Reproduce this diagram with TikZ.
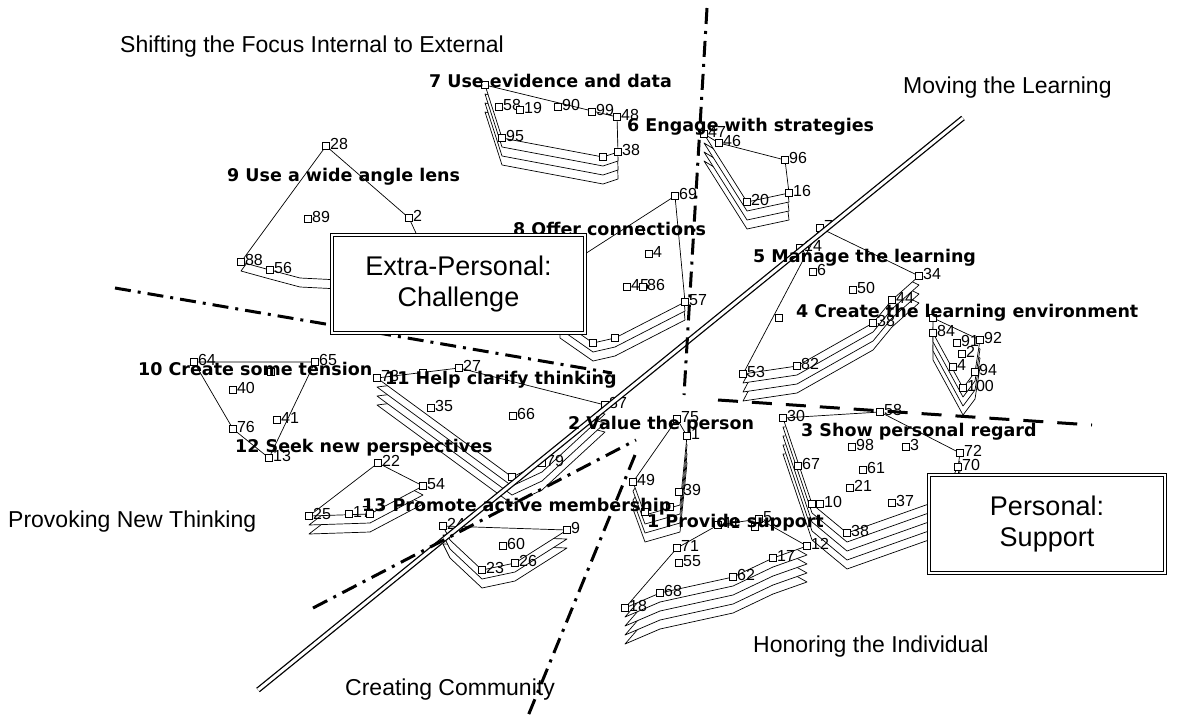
\documentclass[tikz,border=0pt]{standalone}
\usepackage{fontspec}
\setmainfont{Liberation Sans}
\newfontfamily\clfont{DejaVu Sans}
\tikzset{
 clus/.style={draw=black, fill=white, line width=0.7pt, line join=round},
 sq/.style={draw=black, fill=white, line width=0.8pt, minimum size=7pt, inner sep=0pt, rectangle},
 num/.style={font=\fontsize{16}{16}\selectfont, inner sep=1pt, yshift=2pt, xshift=-1pt},
 clab/.style={font=\clfont\bfseries\fontsize{17.5}{17.5}\selectfont, inner sep=0pt},
 corner/.style={font=\fontsize{23}{23}\selectfont, inner sep=0pt, anchor=west},
 boxlab/.style={draw=black, double, double distance=2.5pt, line width=1.2pt, fill=white, align=center, font=\fontsize{27}{31}\selectfont},
 dashdot/.style={line width=3pt, dash pattern=on 16pt off 7pt on 3pt off 7pt},
 longdash/.style={line width=3pt, dash pattern=on 20pt off 14pt},
 axis/.style={double, double distance=3pt, line width=1.3pt}
}
\newcommand\clusterpoly[2]{%
  \ifnum#1>0
   \foreach \k in {#1,...,1}{\filldraw[clus,yshift={-9*\k}] #2 -- cycle;}%
  \fi
  \filldraw[clus] #2 -- cycle;}
\begin{document}
\begin{tikzpicture}[x=1pt,y=-1pt]
\useasboundingbox (0,0) rectangle (1182,717);
\fill[white] (0,0) rectangle (1182,717);

% ---- cluster polygons ----
\clusterpoly{3}{(485,85) -- (617,117) -- (618,152) -- (603,157) -- (502,138)}
\clusterpoly{3}{(704,134) -- (719,143) -- (785,160) -- (789,193) -- (747,202)}
\clusterpoly{1}{(326,146) -- (409,218) -- (440,285) -- (300,278) -- (270,270) -- (241,262)}
\clusterpoly{2}{(675,196) -- (685,302) -- (615,338) -- (593,343) -- (560,320) -- (560,270)}
\clusterpoly{3}{(820,228) -- (919,276) -- (892,300) -- (873,323) -- (797,366) -- (743,374)}
\clusterpoly{3}{(933,318) -- (980,340) -- (975,372) -- (963,388) -- (933,333)}
\clusterpoly{4}{(783,418) -- (880,412) -- (960,453) -- (958,467) -- (940,500) -- (847,533) -- (812,504)}
\clusterpoly{3}{(377,378) -- (459,368) -- (605,405) -- (542,463) -- (512,477)}
\clusterpoly{3}{(677,419) -- (687,436) -- (680,505) -- (645,515) -- (633,482)}
\clusterpoly{4}{(625,608) -- (677,548) -- (718,525) -- (759,519) -- (807,546) -- (773,558) -- (733,577) -- (660,593)}
\clusterpoly{0}{(194,362) -- (315,362) -- (269,458) -- (233,429)}
\clusterpoly{2}{(378,463) -- (423,486) -- (370,514) -- (309,516)}
\clusterpoly{2}{(443,526) -- (567,530) -- (515,563) -- (482,570) -- (450,540)}

% ---- points ----
\foreach \nm/\x/\y/\lab in {
 a1/485/85/{}, a2/499/107/58, a3/520/110/19, a4/558/107/90, a5/592/112/99, a6/617/117/48, a7/502/138/95, a8/603/157/{}, a9/618/152/38,
 b1/704/134/47, b2/719/143/46, b3/785/160/96, b4/789/193/16, b5/747/202/20,
 c1/326/146/28, c2/409/218/2, c3/308/219/89, c4/241/262/88, c5/270/270/56,
 d1/675/196/69, d2/640/230/{}, d3/649/254/4, d4/627/287/45, d5/643/287/86, d6/685/302/57, d7/593/343/{}, d8/615/338/{},
 e1/820/228/7, e2/800/248/14, e3/813/272/6, e4/919/276/34, e5/853/290/50, e6/892/300/44, e7/779/318/{}, e8/873/323/38, e9/797/366/82, e10/743/374/53,
 f1/933/318/{}, f2/933/333/84, f3/957/343/91, f4/980/340/92, f5/962/354/2, f6/953/367/4, f7/975/372/94, f8/963/388/100,
 g1/783/418/30, g2/880/412/58, g3/960/453/72, g4/958/467/70, g5/852/447/98, g6/906/447/3, g7/798/466/67, g8/863/470/61, g9/850/488/21, g10/812/504/{}, g11/820/504/10, g12/892/503/37, g13/847/533/38,
 h1/377/378/73, h2/423/373/{}, h3/459/368/27, h4/431/408/35, h5/513/416/66, h6/605/405/87, h7/542/463/79, h8/512/477/{},
 i1/677/419/75, i2/687/436/1, i3/633/482/49, i4/679/492/39, i5/645/512/{}, i6/670/507/{},
 j1/625/608/18, j2/677/548/71, j3/679/563/55, j4/718/525/41, j5/755/527/{}, j6/759/519/5, j7/807/546/12, j8/773/558/17, j9/733/577/62, j10/660/593/68,
 k1/194/362/64, k2/315/362/65, k3/271/372/{}, k4/233/390/40, k5/233/429/76, k6/277/420/41, k7/269/458/13,
 l1/378/463/22, l2/423/486/54, l3/309/516/25, l4/349/514/17, l5/370/514/{},
 m1/443/526/24, m2/567/530/9, m3/503/546/60, m4/515/563/26, m5/482/570/23}
 {\node[sq, label={[num]right:\lab}] (\nm) at (\x,\y) {};}

% ---- dividing lines ----
\coordinate (axA) at (963,118);
\coordinate (axB) at (258,690);
\draw[axis] (axA) -- (axB);
\coordinate (vA) at (707,8);
\coordinate (vB) at (684,395);
\draw[dashdot] (vA) -- (vB);
\coordinate (hA) at (115,288);
\coordinate (hB) at (612,373);
\draw[dashdot] (hA) -- (hB);
\coordinate (rA) at (718,400);
\coordinate (rB) at (1092,425);
\draw[longdash] (rA) -- (rB);
\coordinate (dA) at (313,608);
\coordinate (dB) at (636,440);
\draw[dashdot] (dA) -- (dB);
\coordinate (eA) at (635,455);
\coordinate (eB) at (528,716);
\draw[dashdot] (eA) -- (eB);

% ---- cluster labels ----
\node[clab, anchor=east] (L7) at (672,81) {7 Use evidence and data};
\node[clab, anchor=west] (L6) at (627,127) {6 Engage with strategies};
\node[clab, anchor=west] (L9) at (227,177) {9 Use a wide angle lens};
\node[clab, anchor=west] (L8) at (513,229) {8 Offer connections};
\node[clab, anchor=west] (L5) at (753,258) {5 Manage the learning};
\node[clab, anchor=west] (L4) at (796,313) {4 Create the learning environment};
\node[clab, anchor=west] (L10) at (138,369) {10 Create some tension};
\node[clab, anchor=west] (L11) at (385,380) {11 Help clarify thinking};
\node[clab, anchor=west] (L12) at (235,448) {12 Seek new perspectives};
\node[clab, anchor=west] (L2) at (568,425) {2 Value the person};
\node[clab, anchor=west] (L3) at (801,432) {3 Show personal regard};
\node[clab, anchor=west] (L13) at (362,507) {13 Promote active membership};
\node[clab, anchor=west] (L1) at (647,523) {1 Provide support};

% ---- boxes ----
\node[boxlab, minimum width=236pt, minimum height=98pt] (bx2) at (1047,524) {Personal:\\Support};
\node[boxlab, minimum width=253pt, minimum height=98pt] (bx1) at (458.5,284) {Extra-Personal:\\Challenge};

% ---- region labels ----
\node[corner] (t1) at (120,47) {Shifting the Focus Internal to External};
\node[corner] (t2) at (903,88) {Moving the Learning};
\node[corner] (t3) at (8,522) {Provoking New Thinking};
\node[corner] (t4) at (345,690) {Creating Community};
\node[corner] (t5) at (753,647) {Honoring the Individual};
\end{tikzpicture}
\end{document}
